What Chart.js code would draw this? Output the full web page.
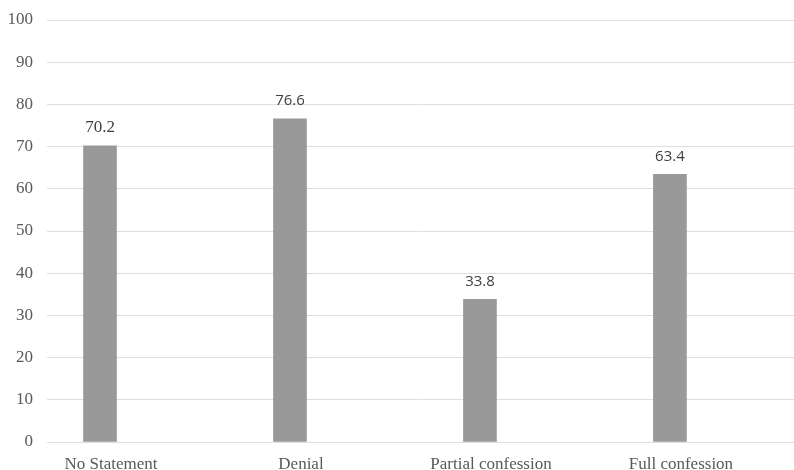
<!DOCTYPE html>
<html>
<head>
<meta charset="utf-8">
<script src="https://cdn.jsdelivr.net/npm/chart.js@4/dist/chart.umd.min.js"></script>
<style>
  html, body { margin: 0; padding: 0; background: #ffffff; }
  #wrap { width: 794px; height: 470px; overflow: hidden; }
</style>
</head>
<body>
<div id="wrap"><canvas id="chart" width="794" height="470"></canvas></div>
<script>
// Share of respondents by statement type
const categories = ['No Statement', 'Denial', 'Partial confession', 'Full confession'];
const values = [70.2, 76.6, 33.8, 63.4];
const yTicks = [0, 10, 20, 30, 40, 50, 60, 70, 80, 90, 100];

// Value-label fonts, one per bar
const labelFonts = [
  { family: '"Liberation Serif", "Times New Roman", serif', size: 17 },
  { family: '"Open Sans", "Noto Sans", sans-serif', size: 15 },
  { family: '"Open Sans", "Noto Sans", sans-serif', size: 15 },
  { family: '"Open Sans", "Noto Sans", sans-serif', size: 15 }
];

const serif = '"Liberation Serif", "Times New Roman", serif';

// Writes each bar's value above it
const valueLabels = {
  id: 'valueLabels',
  afterDatasetsDraw(chart) {
    const ctx = chart.ctx;
    const meta = chart.getDatasetMeta(0);
    ctx.save();
    ctx.textAlign = 'center';
    ctx.textBaseline = 'middle';
    ctx.fillStyle = '#404040';
    meta.data.forEach((bar, i) => {
      const f = labelFonts[i];
      ctx.font = f.size + 'px ' + f.family;
      ctx.fillText(String(values[i]), bar.x, bar.y - 18);
    });
    ctx.restore();
  }
};

new Chart(document.getElementById('chart'), {
  type: 'bar',
  data: {
    datasets: [{
      data: values.map((v, i) => ({ x: i, y: v })),
      backgroundColor: '#999999',
      borderWidth: 0,
      barThickness: 33
    }]
  },
  options: {
    responsive: false,
    animation: false,
    devicePixelRatio: 1,
    layout: { padding: { top: 20, right: 0, bottom: 0, left: 0 } },
    plugins: {
      legend: { display: false },
      tooltip: { enabled: false }
    },
    scales: {
      x: {
        type: 'linear',
        offset: false,
        min: -0.279,
        max: 3.653,
        grid: { display: false },
        border: { display: false },
        afterBuildTicks(scale) {
          scale.ticks = categories.map((c, i) => ({ value: i }));
        },
        afterFit(scale) { scale.height = 28; },
        ticks: {
          autoSkip: false,
          maxRotation: 0,
          padding: 4,
          labelOffset: 11,
          color: '#595959',
          font: { family: serif, size: 17 }
        ,
          callback: (v) => categories[v]
        }
      },
      y: {
        min: 0,
        max: 100,
        grid: { color: '#dedede', lineWidth: 1, drawTicks: false },
        border: { display: false },
        afterBuildTicks(scale) {
          scale.ticks = yTicks.map(v => ({ value: v }));
        },
        afterFit(scale) {
          scale.width = 47;
          scale.paddingTop = 10;
          scale.paddingBottom = 10;
        },
        ticks: {
          padding: 14,
          color: '#595959',
          font: { family: serif, size: 17 }
        }
      }
    }
  },
  plugins: [valueLabels]
});
</script>
</body>
</html>
